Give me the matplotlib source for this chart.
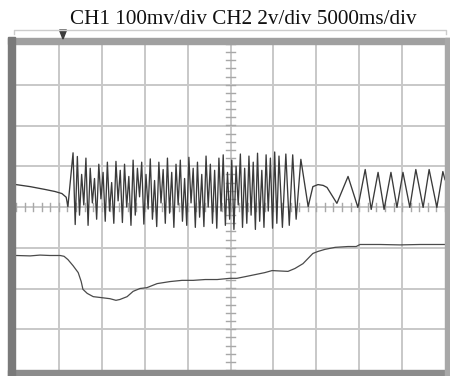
import matplotlib
matplotlib.use('Agg')
import matplotlib.pyplot as plt
from matplotlib.patches import Rectangle, Polygon
from matplotlib.lines import Line2D
import numpy as np

# Screen units: x in divisions (5000 ms/div), y in divisions (centre line = 0)
title = 'CH1 100mv/div CH2 2v/div 5000ms/div'

# CH1 before the burst
ch1_pre_x = [0.00, 0.33, 0.68, 0.91, 1.07, 1.17, 1.21]
ch1_pre_y = [0.55, 0.50, 0.43, 0.38, 0.33, 0.24, 0.01]

# CH1 dense burst
burst_x = [1.33, 1.38, 1.43, 1.48, 1.53, 1.58, 1.63, 1.68, 1.73, 1.78,
           1.83, 1.88, 1.93, 1.98, 2.03, 2.08, 2.13, 2.18, 2.23, 2.28,
           2.33, 2.38, 2.43, 2.48, 2.53, 2.58, 2.63, 2.68, 2.73, 2.78,
           2.83, 2.88, 2.93, 2.98, 3.03, 3.08, 3.13, 3.18, 3.23, 3.28,
           3.33, 3.38, 3.43, 3.48, 3.53, 3.58, 3.63, 3.68, 3.73, 3.78,
           3.83, 3.88, 3.93, 3.98, 4.03, 4.08, 4.13, 4.18, 4.23, 4.28,
           4.33, 4.38, 4.43, 4.48, 4.53, 4.58, 4.63, 4.68, 4.73, 4.78,
           4.83, 4.88, 4.93, 4.98, 5.03, 5.08, 5.13, 5.18, 5.23, 5.28,
           5.33, 5.38, 5.43, 5.48, 5.53, 5.58, 5.63, 5.68, 5.73, 5.78,
           5.83, 5.88, 5.93, 5.98, 6.03, 6.08, 6.13,
           6.21, 6.29, 6.37, 6.45, 6.53, 6.64]
burst_y = [1.33, -0.43, 1.24, -0.20, 0.80, 0.05, 1.20, -0.45, 0.95, 0.10,
           0.70, -0.30, 1.05, 0.20, 0.85, -0.35, 1.10, -0.10, 0.60, -0.40,
           1.12, 0.15, 0.90, -0.38, 1.05, 0.00, 0.75, -0.45, 1.15, -0.20,
           0.95, 0.25, 1.10, -0.42, 0.80, -0.05, 1.18, -0.30, 0.65, -0.48,
           1.10, 0.10, 0.92, -0.40, 1.20, -0.15, 0.85, -0.50, 1.05, 0.05,
           1.15, -0.35, 0.70, -0.45, 1.22, 0.10, 0.95, -0.50, 1.10, -0.25,
           0.80, -0.48, 1.25, 0.00, 1.05, -0.40, 0.90, -0.52, 1.20, -0.10,
           1.28, -0.45, 0.85, -0.30, 1.15, -0.55, 1.00, 0.05, 1.30, -0.50,
           0.95, -0.40, 1.25, -0.20, 1.10, -0.55, 1.32, -0.35, 0.90, -0.50,
           1.28, -0.10, 1.20, -0.52, 1.35, -0.40, 1.25,
           -0.50, 1.30, -0.45, 1.28, -0.30, 1.17]

# CH1 after the burst
ch1_post_x = [6.81, 6.92, 7.04, 7.16, 7.25, 7.48, 7.74, 7.97,
              8.14, 8.28, 8.44, 8.58, 8.74, 8.88, 9.02, 9.18, 9.32, 9.49,
              9.63, 9.81, 9.95, 10.00]
ch1_post_y = [0.01, 0.50, 0.55, 0.53, 0.48, 0.09, 0.75, -0.01,
              0.92, -0.06, 0.85, -0.06, 0.85, -0.01, 0.85, -0.01, 0.92, -0.01,
              0.92, -0.01, 0.87, 0.67]

# CH2 trace (lower)
ch2_x = [0.00, 0.33, 0.56, 0.79, 1.03, 1.12, 1.21, 1.33, 1.45, 1.52,
         1.56, 1.66, 1.80, 1.96, 2.19, 2.33, 2.42, 2.59, 2.73, 2.89,
         3.05, 3.29, 3.59, 3.87, 4.13, 4.41, 4.69, 4.99, 5.15, 5.34,
         5.57, 5.80, 5.97, 6.15, 6.34, 6.50, 6.69, 6.92, 7.04, 7.20,
         7.44, 7.74, 7.93, 8.02, 8.48, 8.95, 9.42, 10.00]
ch2_y = [-1.19, -1.20, -1.18, -1.19, -1.19, -1.21, -1.29, -1.44, -1.61, -1.83,
         -2.02, -2.12, -2.20, -2.22, -2.25, -2.29, -2.27, -2.20, -2.07, -2.00,
         -1.98, -1.88, -1.83, -1.80, -1.80, -1.78, -1.78, -1.75, -1.75, -1.71,
         -1.66, -1.61, -1.56, -1.57, -1.58, -1.51, -1.39, -1.14, -1.09, -1.04,
         -0.99, -0.97, -0.97, -0.92, -0.92, -0.93, -0.92, -0.92]

ch1_x = ch1_pre_x + burst_x + ch1_post_x
ch1_y = ch1_pre_y + burst_y + ch1_post_y

W, H = 450, 376
fig = plt.figure(figsize=(W / 100, H / 100), dpi=100)
fig.patch.set_facecolor('white')


def fx(px):
    return px / W


def fy(py):
    return 1 - py / H


def frame_rect(x0, y0, x1, y1, color):
    # rectangle given in pixel coordinates (top-left origin)
    fig.patches.append(Rectangle((fx(x0), fy(y1)), fx(x1 - x0), fy(y0) - fy(y1),
                                 transform=fig.transFigure, color=color, zorder=0))


# bezel around the screen
frame_rect(8, 38, 450, 44, '#a0a0a0')
frame_rect(8, 370, 450, 376, '#8c8c8c')
frame_rect(445, 38, 450, 376, '#a8a8a8')
frame_rect(8, 37, 15, 376, '#7a7a7a')

# bracket above the screen and trigger marker
fig.lines.append(Line2D([fx(14), fx(14), fx(446), fx(446)], [fy(34), fy(30), fy(30), fy(34)],
                        transform=fig.transFigure, color='#cccccc', lw=1.0))
fig.patches.append(Polygon([[fx(59.5), fy(30)], [fx(66.5), fy(30)], [fx(63), fy(39)]], closed=True,
                           transform=fig.transFigure, color='#3c3c3c'))

fig.text(fx(243.5), fy(24), title, ha='center', va='baseline', fontsize=15.2,
         family='Liberation Serif', color='#111111')

ax = fig.add_axes([fx(16), fy(370), fx(429), fy(44) - fy(370)])
ax.set_xlim(0, 10)
ax.set_ylim(-4, 4)
ax.set_facecolor('white')
for s in ax.spines.values():
    s.set_visible(False)
ax.set_xticks([])
ax.set_yticks([])

grid_color = '#c8c8c8'
for i in range(1, 10):
    ax.axvline(i, color=grid_color, lw=1.4, zorder=1)
for j in range(-3, 4):
    ax.axhline(j, color=grid_color, lw=1.4, zorder=1)

# minor ticks along the centre lines
for k in np.arange(-4, 4.01, 0.2):
    ax.plot([4.89, 5.11], [k, k], color='#a8a8a8', lw=1.0, zorder=1)
for k in np.arange(0, 10.01, 0.2):
    ax.plot([k, k], [-0.1, 0.1], color='#a8a8a8', lw=1.0, zorder=1)

ax.plot(ch1_x, ch1_y, color='#3a3a3a', lw=0.95, zorder=3)
ax.plot(ch2_x, ch2_y, color='#4a4a4a', lw=0.9, zorder=3)

plt.savefig('out.png', dpi=100)
plt.close()
